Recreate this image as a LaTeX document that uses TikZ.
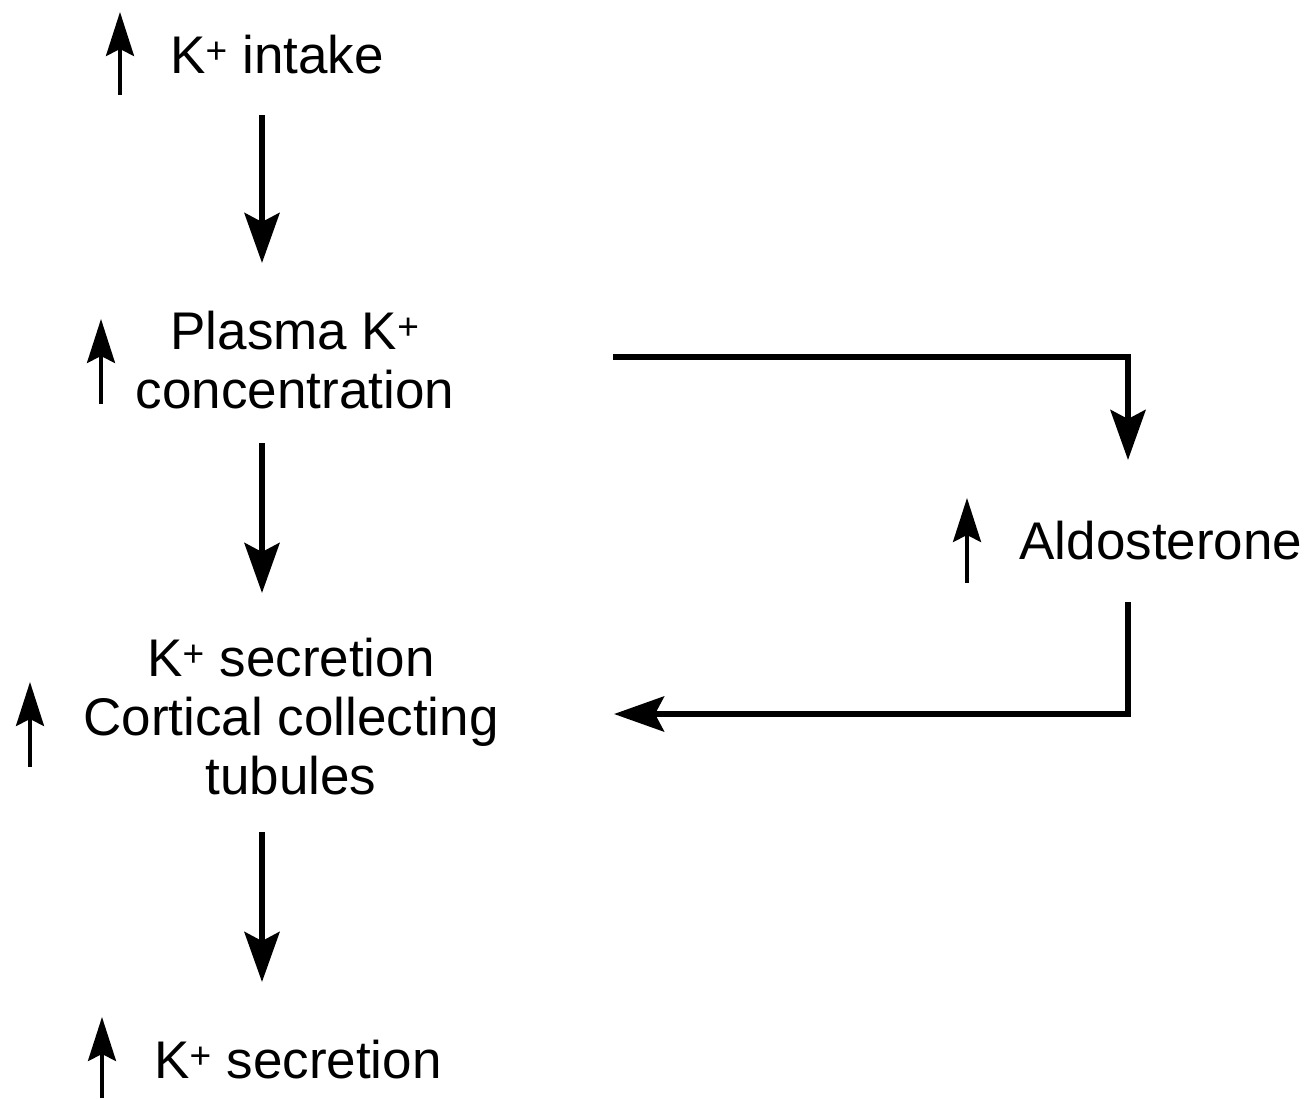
\documentclass[tikz,border=0pt]{standalone}
\usepackage{fontspec}
\setmainfont{Liberation Sans}
\usetikzlibrary{arrows.meta}
\tikzset{
  lbl/.style={inner sep=0pt, anchor=base, align=center, font=\fontsize{53}{59}\selectfont},
  bigarr/.style={line width=6pt, -{Stealth[length=50pt, width=35pt, inset=9pt]}},
  loopline/.style={line width=6pt, line join=miter},
  smallarr/.style={line width=3.5pt, -{Stealth[length=44pt, width=28pt, inset=7pt]}},
}
\begin{document}
\begin{tikzpicture}[x=1pt,y=-1pt]
\useasboundingbox (0,0) rectangle (1313,1098);
% texts (anchor = baseline of last line)
\node[lbl] (intake) at (277,73) {K\textsuperscript{+} intake};
\node[lbl] (plasma) at (295,408) {Plasma K\textsuperscript{+}\\concentration};
\node[lbl] (cortical) at (291,794) {K\textsuperscript{+} secretion\\Cortical collecting\\tubules};
\node[lbl] (secr) at (298,1078) {K\textsuperscript{+} secretion};
\node[lbl] (aldo) at (1161,559) {Aldosterone};
% small "increase" arrows
\coordinate (u1b) at (120,95);  \coordinate (u1t) at (120,12);
\coordinate (u2b) at (101,404); \coordinate (u2t) at (101,319);
\coordinate (u3b) at (30,767);  \coordinate (u3t) at (30,682);
\coordinate (u4b) at (102,1098);\coordinate (u4t) at (102,1017);
\coordinate (u5b) at (967,583); \coordinate (u5t) at (967,498);
\draw[smallarr] (u1b) -- (u1t);
\draw[smallarr] (u2b) -- (u2t);
\draw[smallarr] (u3b) -- (u3t);
\draw[smallarr] (u4b) -- (u4t);
\draw[smallarr] (u5b) -- (u5t);
% main chain
\coordinate (a1s) at (262,115); \coordinate (a1e) at (262,263);
\coordinate (a2s) at (262,443); \coordinate (a2e) at (262,593);
\coordinate (a3s) at (262,832); \coordinate (a3e) at (262,982);
\draw[bigarr] (a1s) -- (a1e);
\draw[bigarr] (a2s) -- (a2e);
\draw[bigarr] (a3s) -- (a3e);
% feedback loop
\coordinate (f1s) at (613,357); \coordinate (f1c) at (1128,357); \coordinate (f1e) at (1128,460);
\coordinate (f2s) at (1128,602); \coordinate (f2c) at (1128,714); \coordinate (f2e) at (614,714);
\draw[loopline, bigarr] (f1s) -- (f1c) -- (f1e);
\draw[loopline, bigarr] (f2s) -- (f2c) -- (f2e);
\end{tikzpicture}
\end{document}
